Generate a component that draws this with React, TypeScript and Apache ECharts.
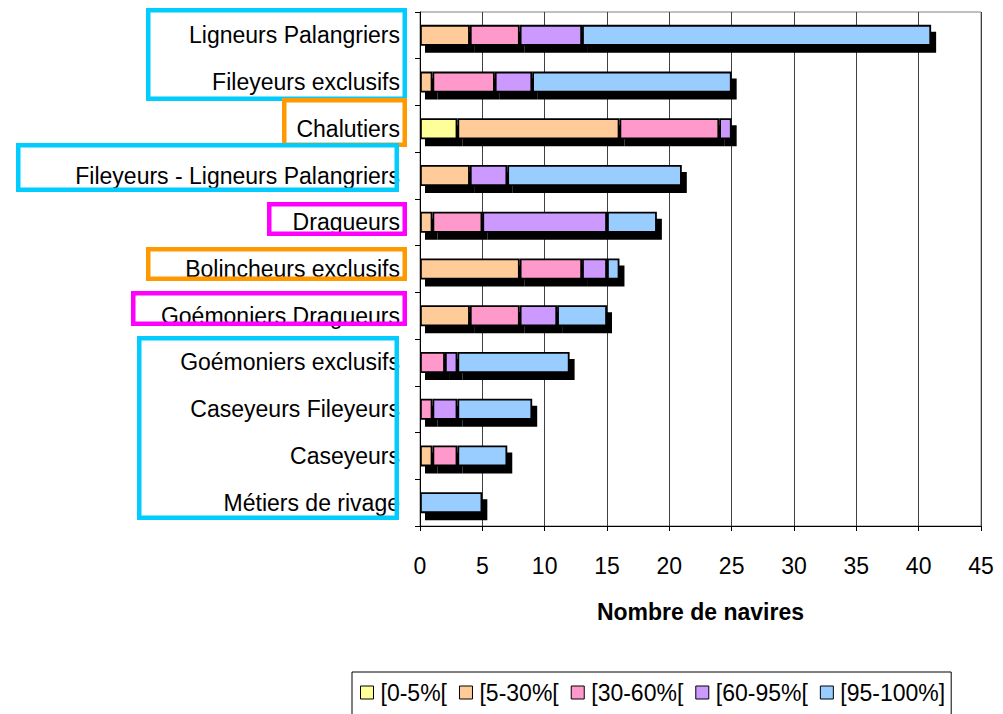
import React, { useEffect, useRef } from "react";
import * as echarts from "echarts";

const categories = [
  "Ligneurs Palangriers",
  "Fileyeurs exclusifs",
  "Chalutiers",
  "Fileyeurs - Ligneurs Palangriers",
  "Dragueurs",
  "Bolincheurs exclusifs",
  "Goémoniers Dragueurs",
  "Goémoniers exclusifs",
  "Caseyeurs Fileyeurs",
  "Caseyeurs",
  "Métiers de rivage",
];

const seriesNames = ["[0-5%[", "[5-30%[", "[30-60%[", "[60-95%[", "[95-100%]"];
const s0_5 = [0, 0, 3, 0, 0, 0, 0, 0, 0, 0, 0];
const s5_30 = [4, 1, 13, 4, 1, 8, 4, 0, 0, 1, 0];
const s30_60 = [4, 5, 8, 0, 4, 5, 4, 2, 1, 2, 0];
const s60_95 = [5, 3, 1, 3, 10, 2, 3, 1, 2, 0, 0];
const s95_100 = [28, 16, 0, 14, 4, 1, 4, 9, 6, 4, 5];
const seriesValues = [s0_5, s5_30, s30_60, s60_95, s95_100];
const seriesColors = ["#FFFF99", "#FFCC99", "#FF99CC", "#CC99FF", "#99CCFF"];

const xTicks = [0, 5, 10, 15, 20, 25, 30, 35, 40, 45];

const boxes = [
  { x0: 146, y0: 8, x1: 407, y1: 101, c: "#00CCFF" },
  { x0: 282, y0: 98, x1: 407, y1: 147, c: "#FF9900" },
  { x0: 16, y0: 143, x1: 399, y1: 192, c: "#00CCFF" },
  { x0: 267, y0: 202, x1: 407, y1: 236, c: "#FF00FF" },
  { x0: 146, y0: 247, x1: 407, y1: 281, c: "#FF9900" },
  { x0: 131, y0: 291, x1: 407, y1: 326, c: "#FF00FF" },
  { x0: 137, y0: 336, x1: 399, y1: 520, c: "#00CCFF" },
];

const FONT = "'Liberation Sans', Arial, sans-serif";

export default function App() {
  const ref = useRef<HTMLDivElement>(null);
  useEffect(() => {
    if (!ref.current) return;
    const chart = echarts.init(ref.current, undefined, { renderer: "svg" });
    const lw = 4.5;
    chart.setOption({
      animation: false,
      backgroundColor: "#ffffff",
      textStyle: { fontFamily: FONT },
      grid: {
        left: 420,
        right: 22,
        top: 12,
        bottom: 188,
        show: true,
        borderColor: "#808080",
        borderWidth: 1,
      },
      xAxis: {
        type: "value",
        min: 0,
        max: 45,
        interval: 5,
        name: "Nombre de navires",
        nameLocation: "middle",
        nameGap: 74,
        nameTextStyle: { fontSize: 23, fontWeight: "bold", color: "#000", fontFamily: FONT },
        axisLine: { show: true, lineStyle: { color: "#000", width: 1 } },
        axisTick: { show: true, length: 5, lineStyle: { color: "#000" } },
        axisLabel: {
          fontSize: 23,
          color: "#000",
          margin: 28,
          fontFamily: FONT,
          formatter: (v: number) => (xTicks.includes(v) ? String(v) : ""),
        },
        splitLine: { show: true, lineStyle: { color: "#404040", width: 1 } },
      },
      yAxis: {
        type: "category",
        data: categories,
        inverse: true,
        axisLine: { show: true, lineStyle: { color: "#000", width: 1 } },
        axisTick: { show: true, length: 5, lineStyle: { color: "#000" } },
        axisLabel: { fontSize: 23, color: "#000", margin: 20, fontFamily: FONT },
        splitLine: { show: false },
      },
      legend: {
        left: 352,
        top: 672,
        icon: "rect",
        itemWidth: 13,
        itemHeight: 13,
        itemGap: 12,
        padding: [9, 6, 14, 8],
        borderColor: "#000",
        borderWidth: 1,
        borderRadius: 0,
        textStyle: { fontSize: 23, color: "#000", fontFamily: FONT, padding: [0, 0, 0, 2] },
        data: seriesNames.map((n, i) => ({
          name: n,
          itemStyle: { color: seriesColors[i], borderColor: "#000", borderWidth: 1 },
        })),
      },
      series: seriesNames.map((n, i) => ({
        name: n,
        type: "bar",
        stack: "total",
        barWidth: 21,
        data: seriesValues[i].map((v) => (v === 0 ? "-" : v)),
        itemStyle: {
          color: seriesColors[i],
          borderColor: "#000",
          borderWidth: 1.8,
          shadowColor: "#000",
          shadowBlur: 0,
          shadowOffsetX: 5,
          shadowOffsetY: 7,
        },
      })),
      graphic: boxes.map((b) => ({
        type: "rect",
        z: 100,
        shape: {
          x: b.x0 + lw / 2,
          y: b.y0 + lw / 2,
          width: b.x1 - b.x0 - lw,
          height: b.y1 - b.y0 - lw,
        },
        style: { fill: "none", stroke: b.c, lineWidth: lw },
      })),
    });
    return () => chart.dispose();
  }, []);
  return (
    <div
      ref={ref}
      style={{ position: "fixed", left: 0, top: 0, width: 1003, height: 714, background: "#fff" }}
    />
  );
}
